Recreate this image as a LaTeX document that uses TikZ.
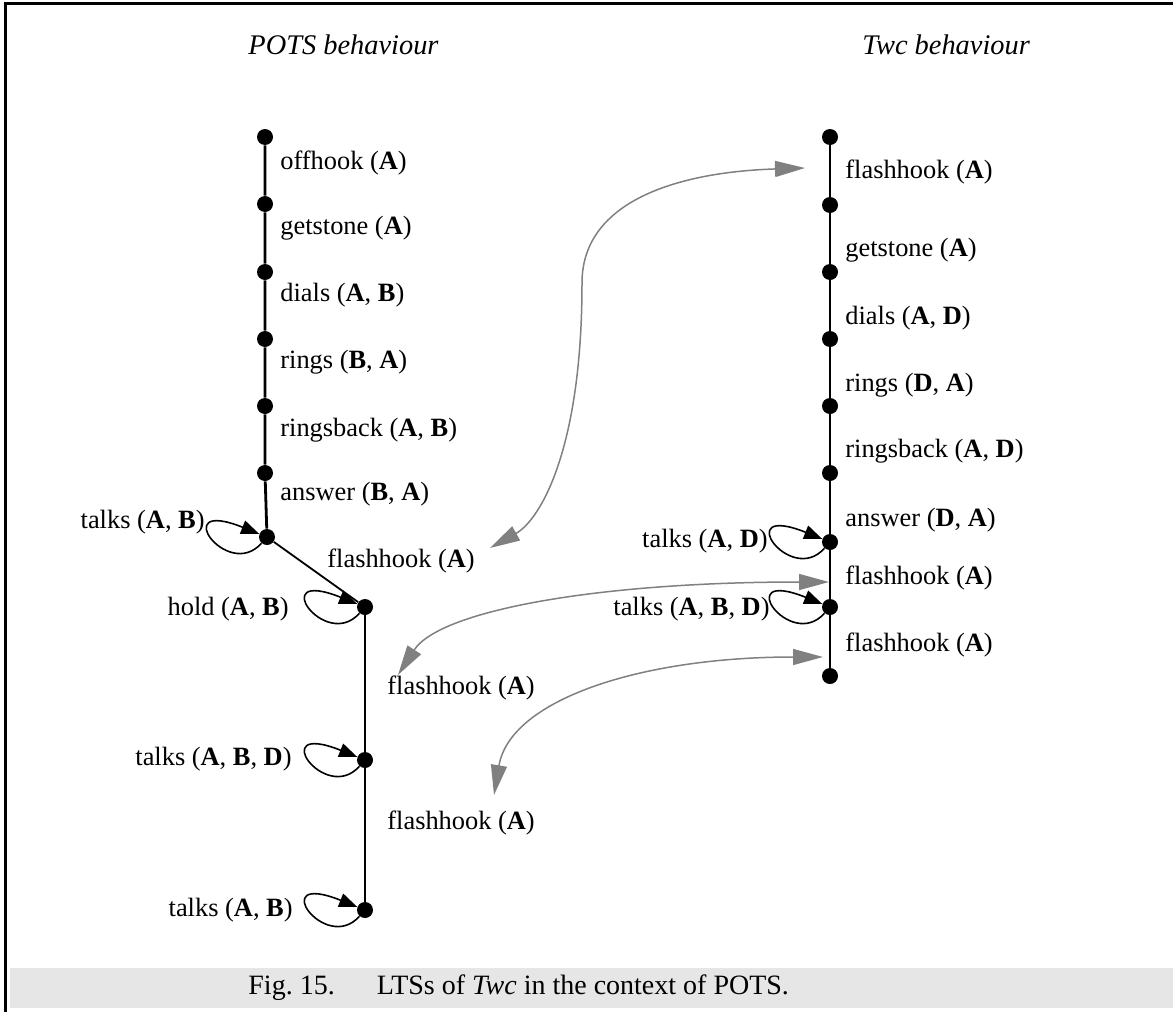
\documentclass[tikz,border=0pt]{standalone}
\usepackage{fontspec}
\setmainfont{Liberation Serif}
\usetikzlibrary{arrows.meta}
\definecolor{linkgray}{RGB}{128,128,128}
\definecolor{capgray}{RGB}{230,230,230}

\begin{document}
\begin{tikzpicture}[x=0.5pt,y=-0.5pt,
  state/.style={circle,fill=black,inner sep=0pt,minimum size=8pt},
  chain/.style={line width=1.4pt},
  diag/.style={line width=0.9pt},
  lbl/.style={inner sep=0pt,font=\fontsize{13.2}{15}\selectfont},
  ttl/.style={inner sep=0pt,font=\fontsize{14.2}{16}\selectfont\itshape},
  selfloop/.style={line width=0.8pt,-{Triangle[length=9pt,width=7pt]}},
  link/.style={linkgray,line width=0.75pt,
    {Triangle[length=15pt,width=8pt]}-{Triangle[length=15pt,width=8pt]}},
]
% page frame and caption band
\useasboundingbox (0,0) rectangle (1173,1012);
\fill[capgray] (10,968) rectangle (1173,1008);
\draw[line width=1.5pt] (5,1012) -- (5,3.5) -- (1173,3.5);

% titles
\node[ttl,anchor=west] (tpots) at (248,45) {POTS behaviour};
\node[ttl,anchor=west] (ttwc)  at (862,45) {Twc behaviour};

% POTS behaviour
\node[state] (p0) at (265,137) {};
\node[state] (p1) at (265,204) {};
\node[state] (p2) at (265,272) {};
\node[state] (p3) at (265,339) {};
\node[state] (p4) at (265,406) {};
\node[state] (p5) at (265,473) {};
\node[state] (p6) at (267,537) {};
\node[state] (p7) at (365,607) {};
\node[state] (p8) at (365,760) {};
\node[state] (p9) at (365,910) {};

\draw[chain] (p0) -- (p1) -- (p2) -- (p3) -- (p4) -- (p5) -- (p6);
\draw[diag] (p6) -- (p7);
\draw[chain] (p7) -- (p8) -- (p9);

\node[lbl,anchor=west] (lp0) at (280,163) {offhook (\textbf{A})};
\node[lbl,anchor=west] (lp1) at (280,228) {getstone (\textbf{A})};
\node[lbl,anchor=west] (lp2) at (280,295) {dials (\textbf{A}, \textbf{B})};
\node[lbl,anchor=west] (lp3) at (280,362) {rings (\textbf{B}, \textbf{A})};
\node[lbl,anchor=west] (lp4) at (280,430) {ringsback (\textbf{A}, \textbf{B})};
\node[lbl,anchor=west] (lp5) at (280,494) {answer (\textbf{B}, \textbf{A})};
\node[lbl,anchor=west] (lp6) at (327,561) {flashhook (\textbf{A})};
\node[lbl,anchor=west] (lp7) at (387,688) {flashhook (\textbf{A})};
\node[lbl,anchor=west] (lp8) at (387,823) {flashhook (\textbf{A})};

\node[lbl,anchor=east] (sp6) at (205,522) {talks (\textbf{A}, \textbf{B})};
\node[lbl,anchor=east] (sp7) at (289,609) {hold (\textbf{A}, \textbf{B})};
\node[lbl,anchor=east] (sp8) at (292,759) {talks (\textbf{A}, \textbf{B}, \textbf{D})};
\node[lbl,anchor=east] (sp9) at (293,910) {talks (\textbf{A}, \textbf{B})};

\draw[selfloop] (p6) .. controls +(-40,45) and +(-100,-40) .. (p6);
\draw[selfloop] (p7) .. controls +(-40,45) and +(-100,-40) .. (p7);
\draw[selfloop] (p8) .. controls +(-40,45) and +(-100,-40) .. (p8);
\draw[selfloop] (p9) .. controls +(-40,45) and +(-100,-40) .. (p9);

% Twc behaviour
\node[state] (t0) at (830,137) {};
\node[state] (t1) at (830,205) {};
\node[state] (t2) at (830,272) {};
\node[state] (t3) at (830,339) {};
\node[state] (t4) at (830,406) {};
\node[state] (t5) at (830,473) {};
\node[state] (t6) at (830,542) {};
\node[state] (t7) at (830,607) {};
\node[state] (t8) at (830,676) {};

\draw[chain] (t0) -- (t1) -- (t2) -- (t3) -- (t4) -- (t5) -- (t6) -- (t7) -- (t8);

\node[lbl,anchor=west] (lt0) at (845,172) {flashhook (\textbf{A})};
\node[lbl,anchor=west] (lt1) at (845,250) {getstone (\textbf{A})};
\node[lbl,anchor=west] (lt2) at (845,318) {dials (\textbf{A}, \textbf{D})};
\node[lbl,anchor=west] (lt3) at (845,385) {rings (\textbf{D}, \textbf{A})};
\node[lbl,anchor=west] (lt4) at (845,451) {ringsback (\textbf{A}, \textbf{D})};
\node[lbl,anchor=west] (lt5) at (845,520) {answer (\textbf{D}, \textbf{A})};
\node[lbl,anchor=west] (lt6) at (845,578) {flashhook (\textbf{A})};
\node[lbl,anchor=west] (lt7) at (845,645) {flashhook (\textbf{A})};

\node[lbl,anchor=east] (st6) at (768,541) {talks (\textbf{A}, \textbf{D})};
\node[lbl,anchor=east] (st7) at (770,609) {talks (\textbf{A}, \textbf{B}, \textbf{D})};

\draw[selfloop] (t6) .. controls +(-40,45) and +(-100,-40) .. (t6);
\draw[selfloop] (t7) .. controls +(-40,45) and +(-100,-40) .. (t7);

% correspondences between the two behaviours
\coordinate (a1) at (490,548);
\coordinate (b1) at (805,168);
\coordinate (a2) at (398,675);
\coordinate (b2) at (829,582);
\coordinate (a3) at (494,795);
\coordinate (b3) at (823,657);

\draw[link] (a1) .. controls (540,520) and (582,450) .. (582,283)
                 .. controls (582,200) and (680,172) .. (b1);
\draw[link] (a2) .. controls (440,610) and (600,582) .. (b2);
\draw[link] (a3) .. controls (510,700) and (640,657) .. (b3);

% caption
\node[inner sep=0pt,anchor=west,font=\fontsize{14}{16}\selectfont] (cap) at (248,988)
  {Fig.~15.\hspace{21pt}LTSs of \textit{Twc} in the context of POTS.};
\end{tikzpicture}
\end{document}
